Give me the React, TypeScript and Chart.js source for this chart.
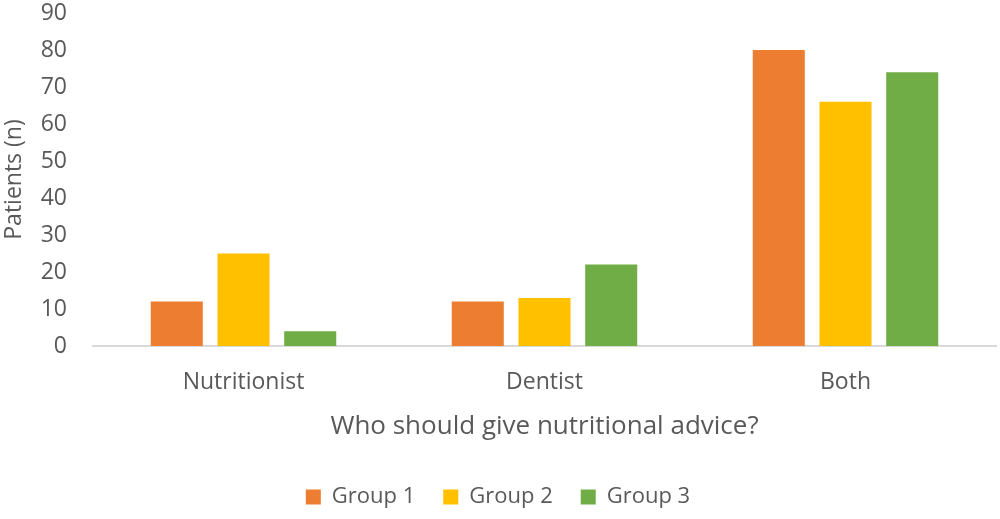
import { useEffect, useRef } from 'react';
import { Chart, registerables } from 'chart.js';

Chart.register(...registerables);

const categories = ['Nutritionist', 'Dentist', 'Both'];
const seriesNames = ['Group 1', 'Group 2', 'Group 3'];
const group1 = [12, 12, 80];
const group2 = [25, 13, 66];
const group3 = [4, 22, 74];
const colors = ['#ED7D31', '#FFC000', '#70AD47'];

const FONT = '"Open Sans", sans-serif';
const TEXT = '#595959';

function App() {
  const chartRef = useRef<HTMLCanvasElement>(null);
  const chartInstance = useRef<Chart | null>(null);

  useEffect(() => {
    document.body.style.margin = '0';
    if (!chartRef.current) return;
    const ctx = chartRef.current.getContext('2d');
    if (!ctx) return;
    if (chartInstance.current) chartInstance.current.destroy();

    const values = [group1, group2, group3];

    chartInstance.current = new Chart(ctx, {
      type: 'bar',
      data: {
        labels: categories,
        datasets: seriesNames.map((name, i) => ({
          label: name,
          data: values[i],
          backgroundColor: colors[i],
          borderWidth: 0,
          categoryPercentage: 0.665,
          barPercentage: 0.78,
        })),
      },
      options: {
        animation: false,
        responsive: true,
        maintainAspectRatio: false,
        layout: { padding: { top: 0, right: 4, bottom: 1, left: 0 } },
        plugins: {
          tooltip: { enabled: false },
          legend: {
            position: 'bottom',
            labels: {
              color: TEXT,
              font: { family: FONT, size: 22 },
              boxWidth: 15,
              boxHeight: 15,
              padding: 28,
            },
          },
        },
        scales: {
          x: {
            grid: { display: false, drawTicks: false },
            border: { display: true, color: '#D9D9D9', width: 2 },
            ticks: { color: TEXT, font: { family: FONT, size: 23 }, padding: 23 },
            title: {
              display: true,
              text: 'Who should give nutritional advice?',
              color: TEXT,
              font: { family: FONT, size: 26 },
              padding: { top: 0, bottom: 16 },
            },
            afterFit: (scale: any) => {
              scale.height = 112;
            },
          },
          y: {
            min: 0,
            max: 90,
            grid: { display: false, drawTicks: false },
            border: { display: false },
            ticks: {
              stepSize: 10,
              color: TEXT,
              font: { family: FONT, size: 23 },
              padding: 26,
            },
            title: {
              display: true,
              text: 'Patients (n)',
              color: TEXT,
              font: { family: FONT, size: 23 },
              padding: { top: 1, bottom: 0 },
            },
            afterFit: (scale: any) => {
              scale.width = 93;
              scale.paddingTop = 13;
              scale.paddingBottom = 13;
            },
          },
        },
      },
    });

    return () => {
      if (chartInstance.current) {
        chartInstance.current.destroy();
        chartInstance.current = null;
      }
    };
  }, []);

  return (
    <div style={{ position: 'relative', width: 1000, height: 519, background: '#fff' }}>
      <canvas ref={chartRef}></canvas>
    </div>
  );
}

export default App;
